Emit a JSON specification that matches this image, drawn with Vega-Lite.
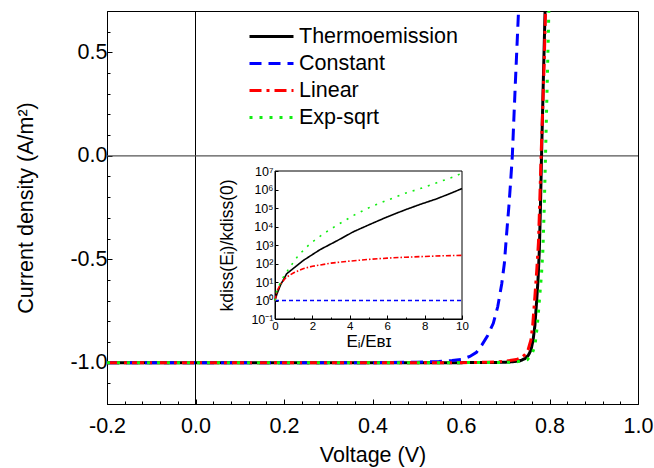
{
  "$schema": "https://vega.github.io/schema/vega-lite/v6.json",
  "width": 531,
  "height": 393,
  "autosize": {"type": "none"},
  "padding": {"left": 107, "top": 11, "right": 16, "bottom": 64},
  "background": "white",
  "config": {
    "font": "Liberation Sans, Arial, sans-serif",
    "view": {"stroke": "black", "strokeWidth": 1},
    "axis": {"labelColor": "black", "titleColor": "black", "titleFontWeight": "normal", "domainColor": "black", "tickColor": "black", "grid": false}
  },
  "datasets": {
    "ref": [{"v": 0}],
    "main": [
      {"s": "Thermoemission", "v": -0.2, "j": -1.0},
      {"s": "Thermoemission", "v": 0.0, "j": -1.0},
      {"s": "Thermoemission", "v": 0.4, "j": -1.0},
      {"s": "Thermoemission", "v": 0.6, "j": -1.0},
      {"s": "Thermoemission", "v": 0.68, "j": -0.999},
      {"s": "Thermoemission", "v": 0.70, "j": -0.998},
      {"s": "Thermoemission", "v": 0.72, "j": -0.995},
      {"s": "Thermoemission", "v": 0.735, "j": -0.99},
      {"s": "Thermoemission", "v": 0.745, "j": -0.98},
      {"s": "Thermoemission", "v": 0.752, "j": -0.965},
      {"s": "Thermoemission", "v": 0.758, "j": -0.94},
      {"s": "Thermoemission", "v": 0.763, "j": -0.89},
      {"s": "Thermoemission", "v": 0.767, "j": -0.82},
      {"s": "Thermoemission", "v": 0.771, "j": -0.70},
      {"s": "Thermoemission", "v": 0.774, "j": -0.60},
      {"s": "Thermoemission", "v": 0.777, "j": -0.46},
      {"s": "Thermoemission", "v": 0.7795, "j": -0.25},
      {"s": "Thermoemission", "v": 0.782, "j": 0.0},
      {"s": "Thermoemission", "v": 0.786, "j": 0.36},
      {"s": "Thermoemission", "v": 0.790, "j": 0.70},
      {"s": "Constant", "v": -0.2, "j": -1.0},
      {"s": "Constant", "v": 0.4, "j": -1.0},
      {"s": "Constant", "v": 0.5, "j": -0.998},
      {"s": "Constant", "v": 0.55, "j": -0.995},
      {"s": "Constant", "v": 0.58, "j": -0.99},
      {"s": "Constant", "v": 0.60, "j": -0.985},
      {"s": "Constant", "v": 0.62, "j": -0.97},
      {"s": "Constant", "v": 0.635, "j": -0.95},
      {"s": "Constant", "v": 0.647, "j": -0.915},
      {"s": "Constant", "v": 0.66, "j": -0.87},
      {"s": "Constant", "v": 0.673, "j": -0.81},
      {"s": "Constant", "v": 0.683, "j": -0.73},
      {"s": "Constant", "v": 0.692, "j": -0.62},
      {"s": "Constant", "v": 0.698, "j": -0.52},
      {"s": "Constant", "v": 0.703, "j": -0.38},
      {"s": "Constant", "v": 0.708, "j": -0.25},
      {"s": "Constant", "v": 0.712, "j": -0.13},
      {"s": "Constant", "v": 0.716, "j": 0.0},
      {"s": "Constant", "v": 0.7195, "j": 0.18},
      {"s": "Constant", "v": 0.723, "j": 0.36},
      {"s": "Constant", "v": 0.7265, "j": 0.53},
      {"s": "Constant", "v": 0.730, "j": 0.70},
      {"s": "Linear", "v": -0.2, "j": -1.0},
      {"s": "Linear", "v": 0.4, "j": -1.0},
      {"s": "Linear", "v": 0.6, "j": -1.0},
      {"s": "Linear", "v": 0.66, "j": -0.998},
      {"s": "Linear", "v": 0.69, "j": -0.995},
      {"s": "Linear", "v": 0.71, "j": -0.99},
      {"s": "Linear", "v": 0.725, "j": -0.985},
      {"s": "Linear", "v": 0.737, "j": -0.975},
      {"s": "Linear", "v": 0.745, "j": -0.96},
      {"s": "Linear", "v": 0.752, "j": -0.935},
      {"s": "Linear", "v": 0.758, "j": -0.89},
      {"s": "Linear", "v": 0.762, "j": -0.82},
      {"s": "Linear", "v": 0.767, "j": -0.68},
      {"s": "Linear", "v": 0.771, "j": -0.56},
      {"s": "Linear", "v": 0.775, "j": -0.42},
      {"s": "Linear", "v": 0.778, "j": -0.22},
      {"s": "Linear", "v": 0.781, "j": 0.0},
      {"s": "Linear", "v": 0.785, "j": 0.25},
      {"s": "Linear", "v": 0.788, "j": 0.45},
      {"s": "Linear", "v": 0.791, "j": 0.70},
      {"s": "Exp-sqrt", "v": -0.2, "j": -1.0},
      {"s": "Exp-sqrt", "v": 0.6, "j": -1.0},
      {"s": "Exp-sqrt", "v": 0.70, "j": -0.999},
      {"s": "Exp-sqrt", "v": 0.73, "j": -0.995},
      {"s": "Exp-sqrt", "v": 0.75, "j": -0.985},
      {"s": "Exp-sqrt", "v": 0.76, "j": -0.96},
      {"s": "Exp-sqrt", "v": 0.767, "j": -0.92},
      {"s": "Exp-sqrt", "v": 0.772, "j": -0.83},
      {"s": "Exp-sqrt", "v": 0.776, "j": -0.73},
      {"s": "Exp-sqrt", "v": 0.779, "j": -0.65},
      {"s": "Exp-sqrt", "v": 0.782, "j": -0.57},
      {"s": "Exp-sqrt", "v": 0.785, "j": -0.46},
      {"s": "Exp-sqrt", "v": 0.788, "j": -0.26},
      {"s": "Exp-sqrt", "v": 0.791, "j": 0.0},
      {"s": "Exp-sqrt", "v": 0.794, "j": 0.27},
      {"s": "Exp-sqrt", "v": 0.797, "j": 0.55},
      {"s": "Exp-sqrt", "v": 0.7985, "j": 0.70}
    ],
    "inset": [
      {"s": "Thermoemission", "x": 0, "k": 1},
      {"s": "Thermoemission", "x": 0.1, "k": 2.2},
      {"s": "Thermoemission", "x": 0.3, "k": 7.1},
      {"s": "Thermoemission", "x": 0.625, "k": 28},
      {"s": "Thermoemission", "x": 1.0, "k": 56},
      {"s": "Thermoemission", "x": 1.52, "k": 148},
      {"s": "Thermoemission", "x": 2.41, "k": 562},
      {"s": "Thermoemission", "x": 3.3, "k": 1660},
      {"s": "Thermoemission", "x": 4.2, "k": 5250},
      {"s": "Thermoemission", "x": 5.09, "k": 13200},
      {"s": "Thermoemission", "x": 5.98, "k": 32400},
      {"s": "Thermoemission", "x": 6.88, "k": 74100},
      {"s": "Thermoemission", "x": 7.77, "k": 158000},
      {"s": "Thermoemission", "x": 8.66, "k": 316000},
      {"s": "Thermoemission", "x": 9.55, "k": 724000},
      {"s": "Thermoemission", "x": 10, "k": 1120000},
      {"s": "Constant", "x": 0, "k": 1},
      {"s": "Constant", "x": 10, "k": 1},
      {"s": "Linear", "x": 0, "k": 1},
      {"s": "Linear", "x": 0.1, "k": 3.2},
      {"s": "Linear", "x": 0.3, "k": 7.9},
      {"s": "Linear", "x": 0.6, "k": 17.8},
      {"s": "Linear", "x": 1.0, "k": 31.6},
      {"s": "Linear", "x": 1.5, "k": 52.5},
      {"s": "Linear", "x": 2, "k": 70.8},
      {"s": "Linear", "x": 3, "k": 105},
      {"s": "Linear", "x": 4, "k": 135},
      {"s": "Linear", "x": 5, "k": 166},
      {"s": "Linear", "x": 6, "k": 195},
      {"s": "Linear", "x": 7, "k": 219},
      {"s": "Linear", "x": 8, "k": 240},
      {"s": "Linear", "x": 9, "k": 263},
      {"s": "Linear", "x": 10, "k": 275},
      {"s": "Exp-sqrt", "x": 0, "k": 1},
      {"s": "Exp-sqrt", "x": 0.09, "k": 3.5},
      {"s": "Exp-sqrt", "x": 0.27, "k": 8.1},
      {"s": "Exp-sqrt", "x": 0.45, "k": 18.6},
      {"s": "Exp-sqrt", "x": 0.8, "k": 64.6},
      {"s": "Exp-sqrt", "x": 1.25, "k": 275},
      {"s": "Exp-sqrt", "x": 1.875, "k": 1175},
      {"s": "Exp-sqrt", "x": 2.59, "k": 4070},
      {"s": "Exp-sqrt", "x": 3.3, "k": 11500},
      {"s": "Exp-sqrt", "x": 4.2, "k": 39800},
      {"s": "Exp-sqrt", "x": 5.09, "k": 112000},
      {"s": "Exp-sqrt", "x": 5.98, "k": 257000},
      {"s": "Exp-sqrt", "x": 6.88, "k": 589000},
      {"s": "Exp-sqrt", "x": 7.77, "k": 1120000},
      {"s": "Exp-sqrt", "x": 8.66, "k": 2340000},
      {"s": "Exp-sqrt", "x": 9.55, "k": 4790000},
      {"s": "Exp-sqrt", "x": 10, "k": 7760000}
    ],
    "frame": [{"x": 0, "x2": 10, "y": 0.1, "y2": 10000000}]
  },
  "layer": [
    {
      "data": {"name": "ref"},
      "mark": {"type": "rule", "color": "black", "strokeWidth": 1},
      "encoding": {
        "x": {"field": "v", "type": "quantitative", "scale": {"domain": [-0.2, 1.0], "nice": false, "zero": false}, "axis": null}
      }
    },
    {
      "data": {"name": "ref"},
      "mark": {"type": "rule", "color": "#555555", "strokeWidth": 1.3},
      "encoding": {
        "y": {"field": "v", "type": "quantitative", "scale": {"domain": [-1.2, 0.7], "nice": false, "zero": false}, "axis": null}
      }
    },
    {
      "data": {"name": "main"},
      "mark": {"type": "line", "strokeWidth": 3, "clip": true, "strokeCap": "butt"},
      "encoding": {
        "x": {
          "field": "v", "type": "quantitative",
          "scale": {"domain": [-0.2, 1.0], "nice": false, "zero": false},
          "axis": {
            "orient": "bottom",
            "values": [-0.2,-0.16,-0.12,-0.08,-0.04,0,0.04,0.08,0.12,0.16,0.2,0.24,0.28,0.32,0.36,0.4,0.44,0.48,0.52,0.56,0.6,0.64,0.68,0.72,0.76,0.8,0.84,0.88,0.92,0.96,1.0],
            "labelExpr": "abs(datum.value*5-round(datum.value*5))<0.001 ? (datum.value < -0.001 ? '-' : '') + format(abs(datum.value), '.1f') : ''",
            "tickSize": {"condition": {"test": "abs(datum.value*5-round(datum.value*5))<0.001", "value": -5}, "value": -3},
            "labelFontSize": 21.5, "labelPadding": 16, "labelOverlap": false, "labelFlush": false,
            "title": "Voltage (V)", "titleFontSize": 21.5, "titlePadding": 6
          }
        },
        "y": {
          "field": "j", "type": "quantitative",
          "scale": {"domain": [-1.2, 0.7], "nice": false, "zero": false},
          "axis": {
            "orient": "left",
            "values": [-1.2,-1.1,-1.0,-0.9,-0.8,-0.7,-0.6,-0.5,-0.4,-0.3,-0.2,-0.1,0,0.1,0.2,0.3,0.4,0.5,0.6,0.7],
            "labelExpr": "abs(datum.value*2-round(datum.value*2))<0.001 ? (datum.value < -0.001 ? '-' : '') + format(abs(datum.value), '.1f') : ''",
            "tickSize": {"condition": {"test": "abs(datum.value*2-round(datum.value*2))<0.001", "value": -5}, "value": -3},
            "labelFontSize": 21.5, "labelPadding": 5, "labelOverlap": false, "labelFlush": false,
            "title": "Current density (A/m²)", "titleFontSize": 21.5, "titlePadding": 32
          }
        },
        "color": {
          "field": "s", "type": "nominal",
          "scale": {"domain": ["Thermoemission", "Constant", "Linear", "Exp-sqrt"], "range": ["#000000", "#0000ff", "#ff0000", "#11ee11"]},
          "legend": {
            "orient": "none", "legendX": 152, "legendY": 13, "title": null,
            "symbolType": "M-2,0H2", "symbolSize": 484, "symbolStrokeWidth": 3,
            "labelFontSize": 21.5, "labelOffset": 15, "rowPadding": 4, "padding": 0, "labelColor": "black", "labelLimit": 300
          }
        },
        "strokeDash": {
          "field": "s", "type": "nominal",
          "scale": {"domain": ["Thermoemission", "Constant", "Linear", "Exp-sqrt"], "range": [[1, 0], [12, 7], [12, 5, 3, 5], [3, 7]]},
          "legend": {
            "orient": "none", "legendX": 152, "legendY": 13, "title": null,
            "symbolType": "M-2,0H2", "symbolSize": 484, "symbolStrokeWidth": 3,
            "labelFontSize": 21.5, "labelOffset": 15, "rowPadding": 4, "padding": 0, "labelColor": "black", "labelLimit": 300
          }
        }
      }
    },
    {
      "data": {"name": "frame"},
      "mark": {"type": "rect", "fill": null, "fillOpacity": 0, "stroke": "black", "strokeWidth": 1},
      "encoding": {
        "x": {"field": "x", "type": "quantitative", "scale": {"domain": [0, 10], "range": [168, 355], "nice": false, "zero": false}, "axis": null},
        "x2": {"field": "x2"},
        "y": {"field": "y", "type": "quantitative", "scale": {"type": "log", "domain": [0.1, 10000000], "range": [308, 160], "nice": false}, "axis": null},
        "y2": {"field": "y2"}
      }
    },
    {
      "data": {"name": "inset"},
      "mark": {"type": "line", "strokeWidth": 1.6, "strokeCap": "butt"},
      "encoding": {
        "x": {
          "field": "x", "type": "quantitative",
          "scale": {"domain": [0, 10], "range": [168, 355], "nice": false, "zero": false},
          "axis": {
            "orient": "bottom", "offset": -85,
            "values": [0,1,2,3,4,5,6,7,8,9,10],
            "labelExpr": "datum.value % 2 == 0 ? format(datum.value, 'd') : ''",
            "tickSize": {"condition": {"test": "datum.value % 2 == 0", "value": -4}, "value": -2},
            "labelFontSize": 11.5, "labelPadding": 5, "labelOverlap": false, "labelFlush": false,
            "title": "Eᵢ/Eʙɪ", "titleFontSize": 17, "titlePadding": 0
          }
        },
        "y": {
          "field": "k", "type": "quantitative",
          "scale": {"type": "log", "domain": [0.1, 10000000], "range": [308, 160], "nice": false},
          "axis": {
            "orient": "left", "offset": -168,
            "values": [0.1, 1, 10, 100, 1000, 10000, 100000, 1000000, 10000000],
            "labelExpr": "'10' + ['⁻¹','⁰','¹','²','³','⁴','⁵','⁶','⁷'][round(log(datum.value)/LN10)+1]",
            "tickSize": -3,
            "labelFontSize": 12.5, "labelPadding": 5, "labelOverlap": false, "labelFlush": false,
            "title": "kdiss(Eᵢ)/kdiss(0)", "titleFontSize": 17.5, "titlePadding": 14
          }
        },
        "color": {
          "field": "s", "type": "nominal",
          "scale": {"domain": ["Thermoemission", "Constant", "Linear", "Exp-sqrt"], "range": ["#000000", "#0000ff", "#ff0000", "#11ee11"]},
          "legend": null
        },
        "strokeDash": {
          "field": "s", "type": "nominal",
          "scale": {"domain": ["Thermoemission", "Constant", "Linear", "Exp-sqrt"], "range": [[1, 0], [4, 3], [5, 2, 1.5, 2], [2, 6]]},
          "legend": null
        }
      }
    }
  ],
  "resolve": {
    "scale": {"x": "independent", "y": "independent", "color": "independent", "strokeDash": "independent"},
    "axis": {"x": "independent", "y": "independent"}
  }
}
